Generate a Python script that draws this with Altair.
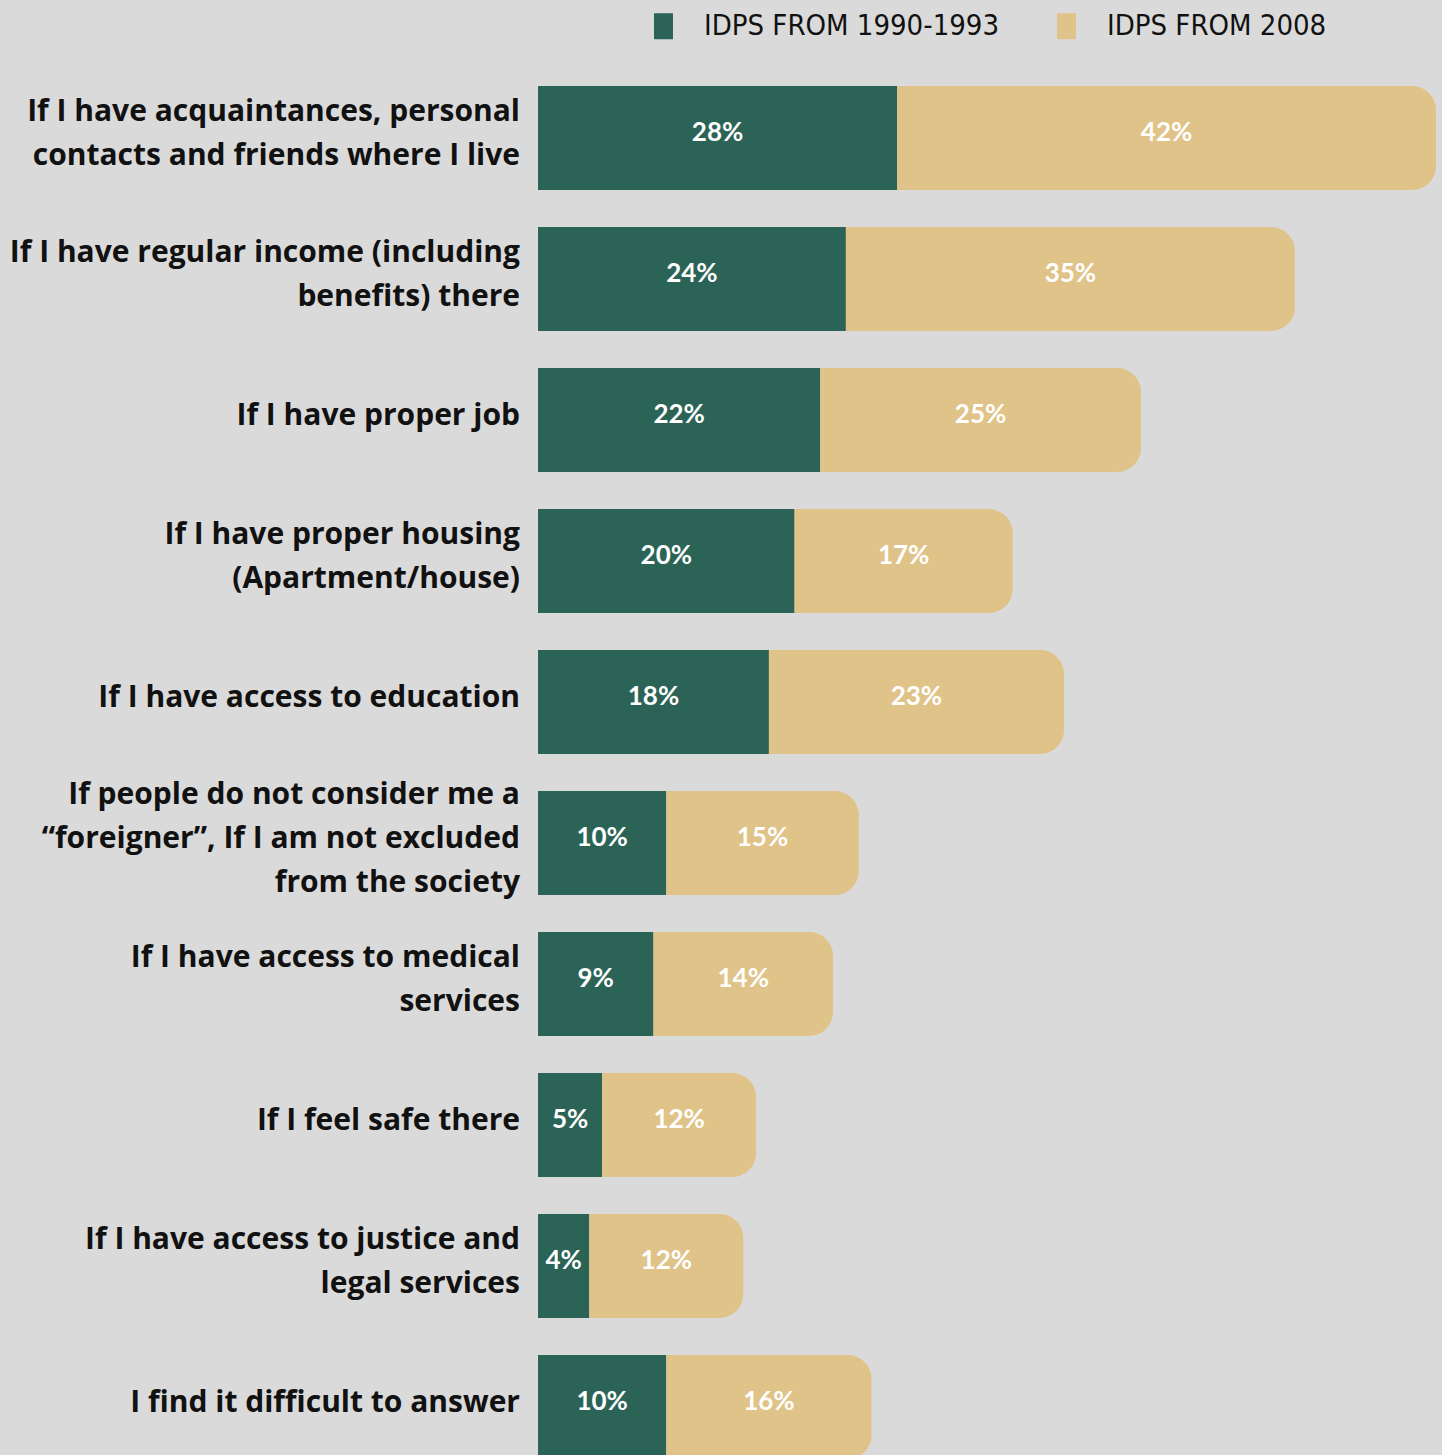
import altair as alt
import pandas as pd

categories = [
    "If I have acquaintances, personal\ncontacts and friends where I live",
    "If I have regular income (including\nbenefits) there",
    "If I have proper job",
    "If I have proper housing\n(Apartment/house)",
    "If I have access to education",
    "If people do not consider me a\n\u201cforeigner\u201d, If I am not excluded\nfrom the society",
    "If I have access to medical\nservices",
    "If I feel safe there",
    "If I have access to justice and\nlegal services",
    "I find it difficult to answer",
]
idps_1990 = [28, 24, 22, 20, 18, 10, 9, 5, 4, 10]
idps_2008 = [42, 35, 25, 17, 23, 15, 14, 12, 12, 16]
series_names = ["IDPS FROM 1990-1993", "IDPS FROM 2008"]
colors = ["#2b6356", "#e0c388"]

rows = []
for i, c in enumerate(categories):
    a, b = idps_1990[i], idps_2008[i]
    rows.append({"cat": c, "series": series_names[0], "start": 0, "end": a,
                 "mid": a / 2, "label": f"{a}%"})
    rows.append({"cat": c, "series": series_names[1], "start": a, "end": a + b,
                 "mid": a + b / 2, "label": f"{b}%"})
df = pd.DataFrame(rows)
cats_df = pd.DataFrame({"cat": categories, "nlines": [c.count("\n") + 1 for c in categories]})

xscale = alt.Scale(domain=[0, 70], nice=False, zero=True)
yscale = alt.Scale(domain=categories, paddingInner=0.2624, paddingOuter=0.1312)
color = alt.Color(
    "series:N",
    scale=alt.Scale(domain=series_names, range=colors),
    legend=alt.Legend(
        title=None, orient="none", legendX=111, legendY=-56, direction="horizontal",
        symbolType="M-0.73,-1L0.73,-1L0.73,1L-0.73,1Z", symbolSize=676,
        symbolStrokeWidth=0, symbolOpacity=1,
        labelFont="'DejaVu Sans Condensed', 'DejaVu Sans', sans-serif", labelFontSize=29,
        labelColor="#111111", labelOffset=26, columnPadding=52, labelLimit=400,
    ),
)

base = alt.Chart(df)
ycat = alt.Y("cat:N", scale=yscale, axis=None, sort=categories)

green = base.transform_filter(alt.datum.series == series_names[0]).mark_bar().encode(
    x=alt.X("start:Q", scale=xscale, axis=None), x2="end:Q", y=ycat, color=color
)
tan = base.transform_filter(alt.datum.series == series_names[1]).mark_bar(
    cornerRadiusTopRight=24, cornerRadiusBottomRight=24
).encode(
    x=alt.X("start:Q", scale=xscale, axis=None), x2="end:Q", y=ycat, color=color
)
values = base.mark_text(
    font="Lato", fontWeight="bold", fontSize=26, color="white", dy=-5, align="center",
    baseline="middle"
).encode(x=alt.X("mid:Q", scale=xscale, axis=None), y=ycat, text="label:N")

label_layers = []
for n in (1, 2, 3):
    label_layers.append(
        alt.Chart(cats_df).transform_filter(alt.datum.nlines == n).mark_text(
            font="Open Sans", fontWeight="bold", fontSize=30, color="#111111", align="right",
            baseline="middle", lineBreak="\n", lineHeight=44, dy=-4 - 22 * (n - 1)
        ).encode(x=alt.value(-18), y=ycat, text="cat:N")
    )

chart = alt.layer(green, tan, values, *label_layers).properties(
    width=898, height=1410,
    background="#dadada",
    padding={"left": 538, "top": 67.5, "right": 6, "bottom": 0},
    autosize=alt.AutoSizeParams(type="none"),
).configure_view(stroke=None)

chart.save("out.html", embed_options={"renderer": "svg", "actions": False})
